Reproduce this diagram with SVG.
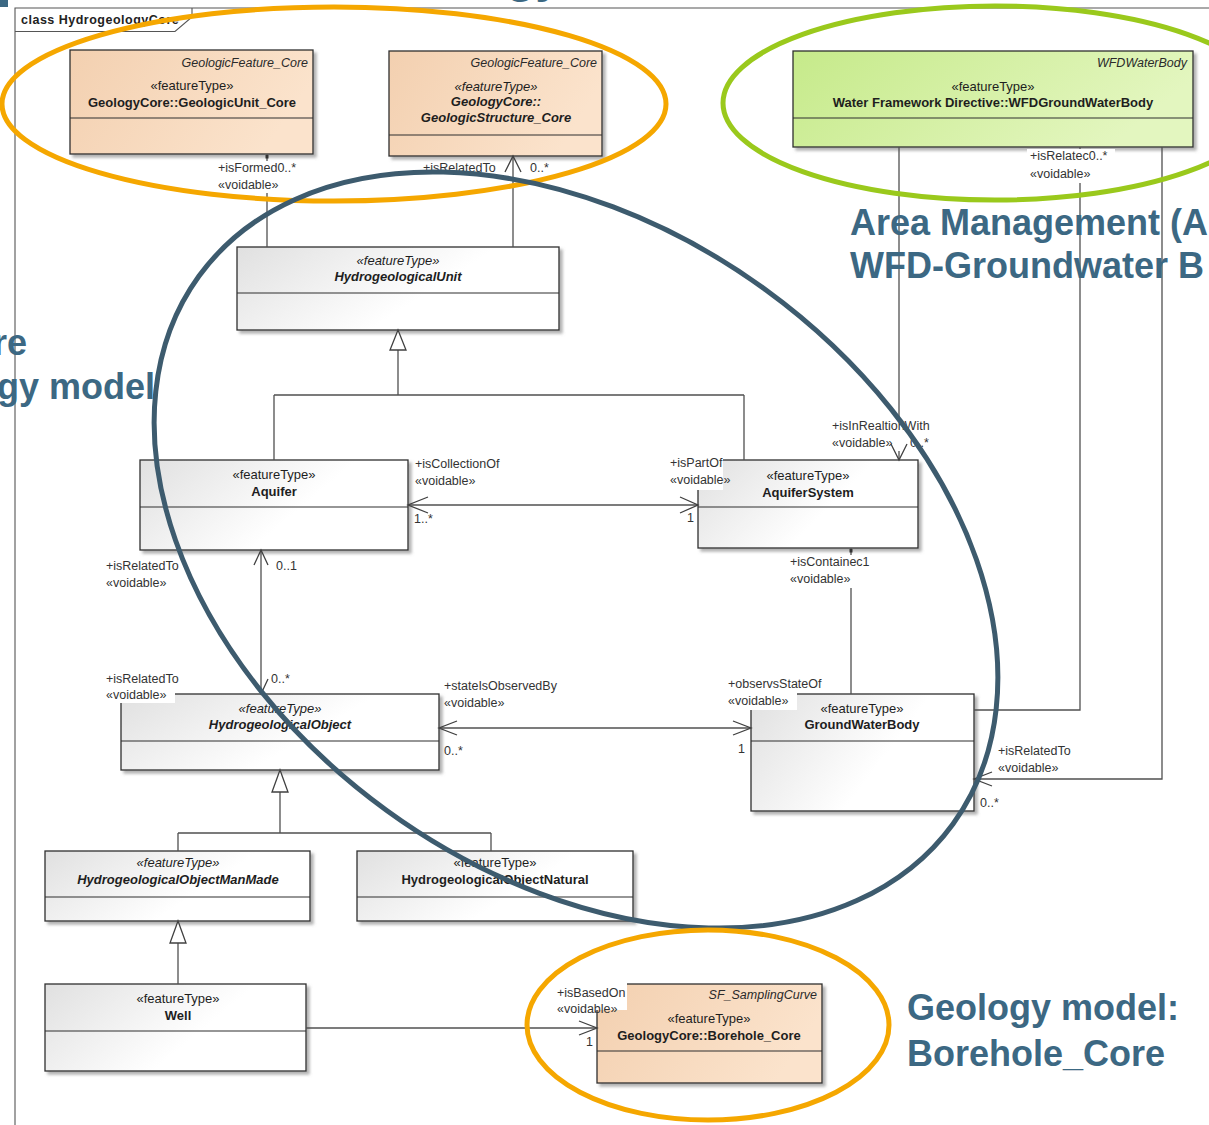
<svg xmlns="http://www.w3.org/2000/svg" width="1209" height="1125" viewBox="0 0 1209 1125">
  <defs>
    <linearGradient id="gGray" x1="0" y1="0" x2="1" y2="0.4">
      <stop offset="0" stop-color="#e0e0e0"/>
      <stop offset="0.7" stop-color="#ffffff"/>
    </linearGradient>
    <linearGradient id="gPeach" x1="0" y1="0" x2="1" y2="0.3">
      <stop offset="0" stop-color="#f3d0b0"/>
      <stop offset="1" stop-color="#fbe3cc"/>
    </linearGradient>
    <linearGradient id="gGreen" x1="0" y1="0" x2="1" y2="0.3">
      <stop offset="0" stop-color="#c6ea8a"/>
      <stop offset="1" stop-color="#e3f6bf"/>
    </linearGradient>
    <filter id="shadow" x="-5%" y="-5%" width="115%" height="125%">
      <feDropShadow dx="3" dy="3" stdDeviation="1.6" flood-color="#6f6f6f" flood-opacity="0.55"/>
    </filter>
    <style>
      .box { stroke: #2e2e2e; stroke-width: 1.3; filter: url(#shadow); }
      .gray { fill: url(#gGray); }
      .peach { fill: url(#gPeach); }
      .green { fill: url(#gGreen); }
      .div { stroke: #2e2e2e; stroke-width: 1.1; }
      .st { font-family: "Liberation Sans", Arial, sans-serif; font-size: 13px; fill: #1e1e1e; text-anchor: middle; }
      .nm { font-weight: bold; }
      .it { font-style: italic; }
      .par { font-family: "Liberation Sans", Arial, sans-serif; font-size: 12.5px; font-style: italic; fill: #2a2a2a; text-anchor: end; }
      .ln { fill: none; stroke: #505050; stroke-width: 1.3; }
      .ah { fill: none; stroke: #404040; stroke-width: 1.3; }
      .gen { fill: #ffffff; stroke: #404040; stroke-width: 1.3; }
      .lb { font-family: "Liberation Sans", Arial, sans-serif; font-size: 12.5px; fill: #333333; }
      .bg { fill: #ffffff; }
      .ttl { font-family: "Liberation Sans", Arial, sans-serif; font-size: 36px; font-weight: bold; fill: #3c6883; }
      .ring { fill: none; stroke-width: 5; }
    </style>
  </defs>

  <rect width="1209" height="1125" fill="#ffffff"/>

  <!-- slide title fragments along the top edge -->
  <rect x="0" y="0" width="8" height="7" fill="#3c6883"/>
  <text x="506" y="-8" class="ttl" style="font-size:48px">gy</text>

  <!-- class diagram frame -->
  <g id="frame">
    <path d="M15,1125 V8 H1209" fill="none" stroke="#555" stroke-width="1.1"/>
    <path d="M15,31.5 H175 L192,17 V8" fill="none" stroke="#555" stroke-width="1.1"/>
    <text x="21" y="24" style="font-family:'Liberation Sans',Arial,sans-serif;font-size:12.5px;font-weight:bold;letter-spacing:0.5px;fill:#222">class HydrogeologyCore</text>
  </g>

  <!-- classes -->
  <g id="node-geologicunit-core">
    <rect x="70" y="50" width="243" height="104" class="box peach"/>
    <line x1="70" y1="118" x2="313" y2="118" class="div"/>
    <text x="308" y="67" class="par">GeologicFeature_Core</text>
    <text x="192" y="90" class="st">«featureType»</text>
    <text x="192" y="107" class="st nm">GeologyCore::GeologicUnit_Core</text>
  </g>

  <g id="node-geologicstructure-core">
    <rect x="389" y="51" width="213" height="105" class="box peach"/>
    <line x1="389" y1="135" x2="602" y2="135" class="div"/>
    <text x="597" y="67" class="par">GeologicFeature_Core</text>
    <text x="496" y="91" class="st it">«featureType»</text>
    <text x="496" y="106" class="st nm it">GeologyCore::</text>
    <text x="496" y="122" class="st nm it">GeologicStructure_Core</text>
  </g>

  <g id="node-wfdgroundwaterbody">
    <rect x="793" y="51" width="400" height="96" class="box green"/>
    <line x1="793" y1="118" x2="1193" y2="118" class="div"/>
    <text x="1187" y="67" class="par">WFDWaterBody</text>
    <text x="993" y="91" class="st">«featureType»</text>
    <text x="993" y="107" class="st nm">Water Framework Directive::WFDGroundWaterBody</text>
  </g>

  <g id="node-hydrogeologicalunit">
    <rect x="237" y="247" width="322" height="83" class="box gray"/>
    <line x1="237" y1="293" x2="559" y2="293" class="div"/>
    <text x="398" y="265" class="st it">«featureType»</text>
    <text x="398" y="281" class="st nm it">HydrogeologicalUnit</text>
  </g>

  <g id="node-aquifer">
    <rect x="140" y="460" width="268" height="90" class="box gray"/>
    <line x1="140" y1="507" x2="408" y2="507" class="div"/>
    <text x="274" y="479" class="st">«featureType»</text>
    <text x="274" y="496" class="st nm">Aquifer</text>
  </g>

  <g id="node-aquifersystem">
    <rect x="698" y="460" width="220" height="88" class="box gray"/>
    <line x1="698" y1="507" x2="918" y2="507" class="div"/>
    <text x="808" y="480" class="st">«featureType»</text>
    <text x="808" y="497" class="st nm">AquiferSystem</text>
  </g>

  <g id="node-hydrogeologicalobject">
    <rect x="121" y="694" width="318" height="76" class="box gray"/>
    <line x1="121" y1="741" x2="439" y2="741" class="div"/>
    <text x="280" y="713" class="st it">«featureType»</text>
    <text x="280" y="729" class="st nm it">HydrogeologicalObject</text>
  </g>

  <g id="node-groundwaterbody">
    <rect x="751" y="694" width="223" height="117" class="box gray"/>
    <line x1="751" y1="741" x2="974" y2="741" class="div"/>
    <text x="862" y="713" class="st">«featureType»</text>
    <text x="862" y="729" class="st nm">GroundWaterBody</text>
  </g>

  <g id="node-hydrogeologicalobjectmanmade">
    <rect x="45" y="851" width="265" height="70" class="box gray"/>
    <line x1="45" y1="897" x2="310" y2="897" class="div"/>
    <text x="178" y="867" class="st it">«featureType»</text>
    <text x="178" y="884" class="st nm it">HydrogeologicalObjectManMade</text>
  </g>

  <g id="node-hydrogeologicalobjectnatural">
    <rect x="357" y="851" width="276" height="70" class="box gray"/>
    <line x1="357" y1="897" x2="633" y2="897" class="div"/>
    <text x="495" y="867" class="st">«featureType»</text>
    <text x="495" y="884" class="st nm">HydrogeologicalObjectNatural</text>
  </g>

  <g id="node-well">
    <rect x="45" y="984" width="261" height="87" class="box gray"/>
    <line x1="45" y1="1031" x2="306" y2="1031" class="div"/>
    <text x="178" y="1003" class="st">«featureType»</text>
    <text x="178" y="1020" class="st nm">Well</text>
  </g>

  <g id="node-borehole-core">
    <rect x="597" y="984" width="225" height="99" class="box peach"/>
    <line x1="597" y1="1051" x2="822" y2="1051" class="div"/>
    <text x="817" y="999" class="par">SF_SamplingCurve</text>
    <text x="709" y="1023" class="st">«featureType»</text>
    <text x="709" y="1040" class="st nm">GeologyCore::Borehole_Core</text>
  </g>

  <!-- associations and generalizations -->
  <g id="connectors">
    <path class="ln" d="M267,154 V247"/>
    <path class="ln" d="M513,156 V247"/>
    <path class="ln" d="M398,350 V395 M274,395 H744 M274,395 V460 M744,395 V460"/>
    <path class="ln" d="M408,505 H698"/>
    <path class="ln" d="M261,550 V694"/>
    <path class="ln" d="M439,728 H751"/>
    <path class="ln" d="M851,548 V694"/>
    <path class="ln" d="M899,147 V460"/>
    <path class="ln" d="M1080,147 V710 H974"/>
    <path class="ln" d="M1162,147 V779 H974"/>
    <path class="ln" d="M280,792 V833 M178,833 H491 M178,833 V851 M491,833 V851"/>
    <path class="ln" d="M178,943 V984"/>
    <path class="ln" d="M306,1028 H597"/>

    <!-- role labels -->
    <rect class="bg" x="215" y="161" width="88" height="32"/>
    <text class="lb" x="218" y="172">+isFormed0..*</text>
    <text class="lb" x="218" y="189">«voidable»</text>

    <text class="lb" x="423" y="172">+isRelatedTo</text>
    <text class="lb" x="530" y="172">0..*</text>

    <rect class="bg" x="1027" y="149" width="88" height="34"/>
    <text class="lb" x="1030" y="160">+isRelatec0..*</text>
    <text class="lb" x="1030" y="178">«voidable»</text>

    <rect class="bg" x="829" y="419" width="108" height="32"/>
    <text class="lb" x="832" y="430">+isInRealtionWith</text>
    <text class="lb" x="832" y="447">«voidable»</text>
    <text class="lb" x="910" y="447">0..*</text>

    <text class="lb" x="415" y="468">+isCollectionOf</text>
    <text class="lb" x="415" y="485">«voidable»</text>
    <text class="lb" x="414" y="523">1..*</text>

    <rect class="bg" x="667" y="455" width="56" height="35"/>
    <text class="lb" x="670" y="467">+isPartOf</text>
    <text class="lb" x="670" y="484">«voidable»</text>
    <text class="lb" x="687" y="522">1</text>

    <rect class="bg" x="787" y="555" width="86" height="33"/>
    <text class="lb" x="790" y="566">+isContainec1</text>
    <text class="lb" x="790" y="583">«voidable»</text>

    <text class="lb" x="106" y="570">+isRelatedTo</text>
    <text class="lb" x="106" y="587">«voidable»</text>
    <text class="lb" x="276" y="570">0..1</text>

    <rect class="bg" x="103" y="672" width="72" height="31"/>
    <text class="lb" x="106" y="683">+isRelatedTo</text>
    <text class="lb" x="106" y="699">«voidable»</text>
    <text class="lb" x="271" y="683">0..*</text>

    <text class="lb" x="444" y="690">+stateIsObservedBy</text>
    <text class="lb" x="444" y="707">«voidable»</text>
    <text class="lb" x="444" y="755">0..*</text>

    <rect class="bg" x="725" y="677" width="72" height="33"/>
    <text class="lb" x="728" y="688">+observsStateOf</text>
    <text class="lb" x="728" y="705">«voidable»</text>
    <text class="lb" x="738" y="753">1</text>

    <text class="lb" x="998" y="755">+isRelatedTo</text>
    <text class="lb" x="998" y="772">«voidable»</text>
    <text class="lb" x="980" y="807">0..*</text>

    <rect class="bg" x="554" y="983" width="73" height="27"/>
    <text class="lb" x="557" y="997">+isBasedOn</text>
    <text class="lb" x="557" y="1013">«voidable»</text>
    <text class="lb" x="586" y="1046">1</text>

    <!-- navigability arrowheads -->
    <polyline class="ah" points="505,172 513,156 521,172"/>
    <polyline class="ah" points="891,444 899,460 907,444"/>
    <polyline class="ah" points="428,497 408,505 428,513"/>
    <polyline class="ah" points="680,497 698,505 680,513"/>
    <polyline class="ah" points="254,565 261,550 268,565"/>
    <polyline class="ah" points="254,679 261,694 268,679"/>
    <polyline class="ah" points="457,721 439,728 457,735"/>
    <polyline class="ah" points="733,721 751,728 733,735"/>
    <polyline class="ah" points="992,772 974,779 992,786"/>
    <polyline class="ah" points="579,1021 597,1028 579,1035"/>

    <!-- generalization triangles -->
    <polygon class="gen" points="398,330 390,350 406,350"/>
    <polygon class="gen" points="280,770 272,792 288,792"/>
    <polygon class="gen" points="178,921 170,943 186,943"/>

    <!-- association end dots -->
    <rect x="265.5" y="155" width="3" height="3.5" fill="#333"/>
    <rect x="849.5" y="549" width="3" height="3.5" fill="#333"/>
  </g>

  <!-- highlight rings -->
  <g id="highlights">
    <ellipse class="ring" cx="334" cy="104" rx="332" ry="97" stroke="#f5a700"/>
    <ellipse class="ring" cx="995" cy="103" rx="272" ry="97" stroke="#9ac91c"/>
    <ellipse class="ring" cx="0" cy="0" rx="466" ry="322" stroke="#3d5b6e" transform="translate(576 550) rotate(36)"/>
    <ellipse class="ring" cx="708" cy="1025" rx="181" ry="95" stroke="#f5a700"/>
  </g>

  <!-- slide captions -->
  <g id="captions">
    <text class="ttl" x="27" y="355" text-anchor="end">re</text>
    <text class="ttl" x="155" y="399" text-anchor="end">gy model</text>
    <text class="ttl" x="850" y="235">Area Management (A</text>
    <text class="ttl" x="850" y="278">WFD-Groundwater B</text>
    <text class="ttl" x="907" y="1020">Geology model:</text>
    <text class="ttl" x="907" y="1066">Borehole_Core</text>
  </g>
</svg>
